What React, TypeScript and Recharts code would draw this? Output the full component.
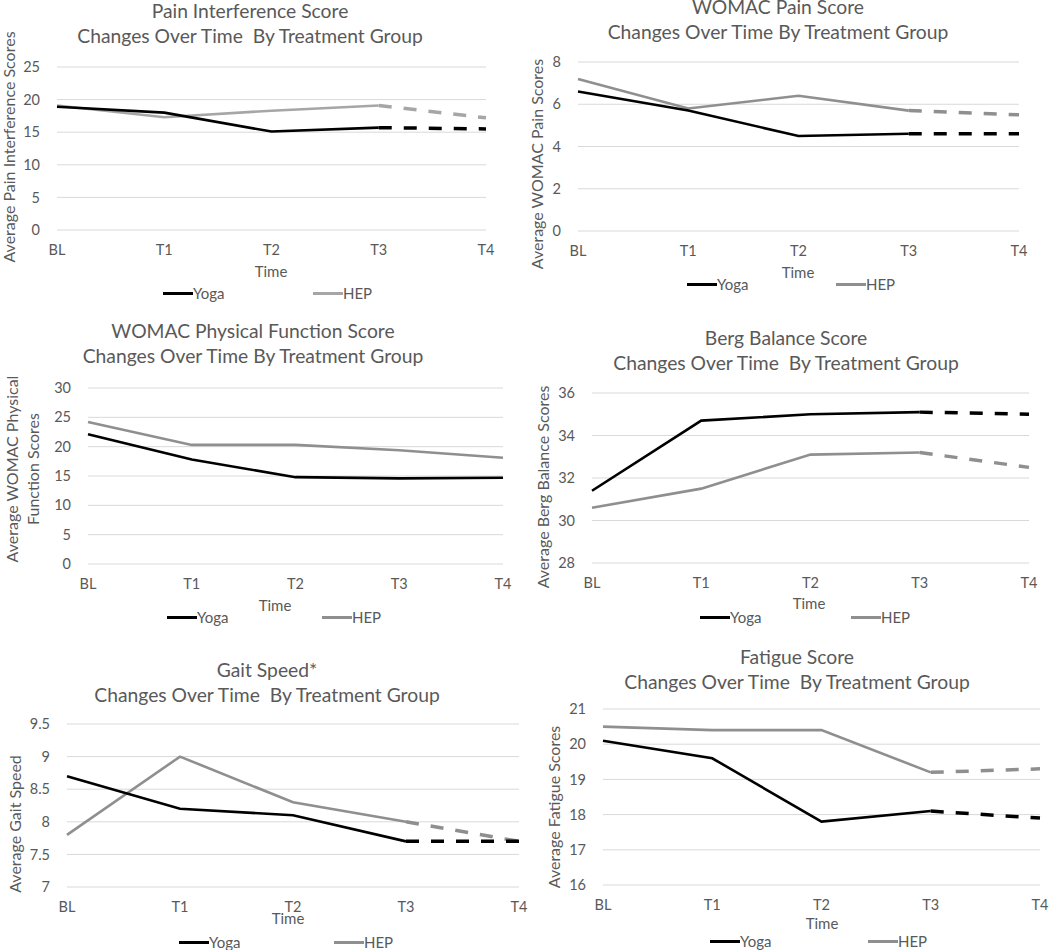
import React from "react";
import { LineChart, Line, XAxis, YAxis, CartesianGrid } from "recharts";

const categories = ["BL", "T1", "T2", "T3", "T4"];

const painYoga = [18.9, 18.0, 15.1, 15.7, 15.5];
const painHep = [19.1, 17.3, 18.3, 19.1, 17.2];
const painTicks = [0, 5, 10, 15, 20, 25];

const womacPainYoga = [6.6, 5.7, 4.5, 4.6, 4.6];
const womacPainHep = [7.2, 5.8, 6.4, 5.7, 5.5];
const womacPainTicks = [0, 2, 4, 6, 8];

const physYoga = [22.1, 17.8, 14.8, 14.6, 14.7];
const physHep = [24.2, 20.3, 20.3, 19.4, 18.1];
const physTicks = [0, 5, 10, 15, 20, 25, 30];

const bergYoga = [31.4, 34.7, 35.0, 35.1, 35.0];
const bergHep = [30.6, 31.5, 33.1, 33.2, 32.5];
const bergTicks = [28, 30, 32, 34, 36];

const gaitYoga = [8.7, 8.2, 8.1, 7.7, 7.7];
const gaitHep = [7.8, 9.0, 8.3, 8.0, 7.7];
const gaitTicks = [7, 7.5, 8, 8.5, 9, 9.5];

const fatigueYoga = [20.1, 19.6, 17.8, 18.1, 17.9];
const fatigueHep = [20.5, 20.4, 20.4, 19.2, 19.3];
const fatigueTicks = [16, 17, 18, 19, 20, 21];

const FONT = "Lato, 'Open Sans', sans-serif";
const TXT = "#595959";

type PanelProps = {
  L: number; R: number; T: number; B: number;
  ticks: number[];
  yoga: number[]; hep: number[];
  dashed: boolean;
  hepColor: string;
  title: string[]; titleX: number; titleY: number[];
  yLabel: string[]; yLabelX: number[]; yLabelY: number;
  timeX: number; timeY: number;
  legendY: number; yogaLegX: number; hepLegX: number;
};

function Panel(p: PanelProps) {
  const data = categories.map((c, i) => ({
    cat: c,
    yoga: p.dashed && i === 4 ? null : p.yoga[i],
    hep: p.dashed && i === 4 ? null : p.hep[i],
    yogaDash: p.dashed && i >= 3 ? p.yoga[i] : null,
    hepDash: p.dashed && i >= 3 ? p.hep[i] : null,
  }));
  const yw = 50;
  const cx = p.L - yw;
  const cy = p.T - 10;
  const cw = p.R - p.L + yw + 20;
  const ch = p.B - p.T + 10 + 40;
  const lo = p.ticks[0];
  const hi = p.ticks[p.ticks.length - 1];
  const center: React.CSSProperties = {
    position: "absolute",
    transform: "translate(-50%, -50%)",
    whiteSpace: "pre",
    fontFamily: FONT,
    color: TXT,
    lineHeight: 1,
  };
  const legStyle: React.CSSProperties = {
    position: "absolute",
    top: p.legendY - 10,
    height: 20,
    display: "flex",
    alignItems: "center",
    fontFamily: FONT,
    color: TXT,
    fontSize: 15,
  };
  return (
    <>
      <div style={{ position: "absolute", left: cx, top: cy }}>
        <LineChart
          width={cw}
          height={ch}
          data={data}
          margin={{ left: 0, top: 10, right: 20, bottom: 10 }}
        >
          <CartesianGrid vertical={false} stroke="#d9d9d9" strokeWidth={1} />
          <XAxis
            dataKey="cat"
            axisLine={false}
            tickLine={false}
            tickSize={0}
            tickMargin={15}
            height={30}
            interval={0}
            tick={{ fill: TXT, fontSize: 14.5, fontFamily: FONT }}
          />
          <YAxis
            type="number"
            domain={[lo, hi]}
            ticks={p.ticks}
            axisLine={false}
            tickLine={false}
            tickSize={0}
            tickMargin={17}
            width={yw}
            interval={0}
            tick={{ fill: TXT, fontSize: 14.5, fontFamily: FONT }}
          />
          <Line type="linear" dataKey="hep" stroke={p.hepColor} strokeWidth={2.6} dot={false} isAnimationActive={false} />
          <Line type="linear" dataKey="yoga" stroke="#000000" strokeWidth={2.6} dot={false} isAnimationActive={false} />
          {p.dashed && (
            <Line type="linear" dataKey="hepDash" stroke={p.hepColor} strokeWidth={3.5} strokeDasharray="13 12" dot={false} isAnimationActive={false} />
          )}
          {p.dashed && (
            <Line type="linear" dataKey="yogaDash" stroke="#000000" strokeWidth={3.5} strokeDasharray="13 12" dot={false} isAnimationActive={false} />
          )}
        </LineChart>
      </div>
      {p.title.map((t, i) => (
        <div key={"t" + i} style={{ ...center, left: p.titleX, top: p.titleY[i], fontSize: 19.3 }}>
          {t}
        </div>
      ))}
      {p.yLabel.map((t, i) => (
        <div
          key={"y" + i}
          style={{
            ...center,
            left: p.yLabelX[i],
            top: p.yLabelY,
            fontSize: 16,
            transform: "translate(-50%, -50%) rotate(-90deg)",
          }}
        >
          {t}
        </div>
      ))}
      <div style={{ ...center, left: p.timeX, top: p.timeY, fontSize: 15 }}>Time</div>
      <div style={{ ...legStyle, left: p.yogaLegX }}>
        <div style={{ width: 30, height: 3, background: "#000" }} />
        <span>Yoga</span>
      </div>
      <div style={{ ...legStyle, left: p.hepLegX }}>
        <div style={{ width: 30, height: 3, background: p.hepColor }} />
        <span>HEP</span>
      </div>
    </>
  );
}

export default function App() {
  const grayHep = "#8f8f8f";
  return (
    <div style={{ position: "absolute", left: 0, top: 0, width: 1050, height: 950, background: "#fff", overflow: "hidden" }}>
      <Panel
        L={57} R={486} T={67} B={230}
        ticks={painTicks} yoga={painYoga} hep={painHep} dashed={true} hepColor="#a6a6a6"
        title={["Pain Interference Score", "Changes Over Time  By Treatment Group"]}
        titleX={250} titleY={[11, 36]}
        yLabel={["Average Pain Interference Scores"]} yLabelX={[9]} yLabelY={147}
        timeX={271} timeY={271}
        legendY={293} yogaLegX={163} hepLegX={313}
      />
      <Panel
        L={578} R={1019} T={62} B={231}
        ticks={womacPainTicks} yoga={womacPainYoga} hep={womacPainHep} dashed={true} hepColor={grayHep}
        title={["WOMAC Pain Score", "Changes Over Time By Treatment Group"]}
        titleX={778} titleY={[7, 32]}
        yLabel={["Average WOMAC Pain Scores"]} yLabelX={[537]} yLabelY={164}
        timeX={798} timeY={272}
        legendY={284} yogaLegX={687} hepLegX={836}
      />
      <Panel
        L={88} R={503} T={388} B={564}
        ticks={physTicks} yoga={physYoga} hep={physHep} dashed={false} hepColor={grayHep}
        title={["WOMAC Physical Function Score", "Changes Over Time By Treatment Group"]}
        titleX={253} titleY={[331, 356]}
        yLabel={["Average WOMAC Physical", "Function Scores"]} yLabelX={[12, 33]} yLabelY={469}
        timeX={275} timeY={605}
        legendY={617} yogaLegX={167} hepLegX={322}
      />
      <Panel
        L={592} R={1029} T={393} B={563}
        ticks={bergTicks} yoga={bergYoga} hep={bergHep} dashed={true} hepColor={grayHep}
        title={["Berg Balance Score", "Changes Over Time  By Treatment Group"]}
        titleX={786} titleY={[338, 363]}
        yLabel={["Average Berg Balance Scores"]} yLabelX={[543]} yLabelY={487}
        timeX={809} timeY={603}
        legendY={617} yogaLegX={700} hepLegX={851}
      />
      <Panel
        L={67} R={519} T={724} B={887}
        ticks={gaitTicks} yoga={gaitYoga} hep={gaitHep} dashed={true} hepColor={grayHep}
        title={["Gait Speed*", "Changes Over Time  By Treatment Group"]}
        titleX={267} titleY={[670, 695]}
        yLabel={["Average Gait Speed"]} yLabelX={[15]} yLabelY={824}
        timeX={288} timeY={918}
        legendY={942} yogaLegX={179} hepLegX={334}
      />
      <Panel
        L={603} R={1040} T={709} B={885}
        ticks={fatigueTicks} yoga={fatigueYoga} hep={fatigueHep} dashed={true} hepColor={grayHep}
        title={["Fatigue Score", "Changes Over Time  By Treatment Group"]}
        titleX={797} titleY={[657, 682]}
        yLabel={["Average Fatigue Scores"]} yLabelX={[554]} yLabelY={807}
        timeX={822} timeY={923}
        legendY={941} yogaLegX={710} hepLegX={868}
      />
    </div>
  );
}
